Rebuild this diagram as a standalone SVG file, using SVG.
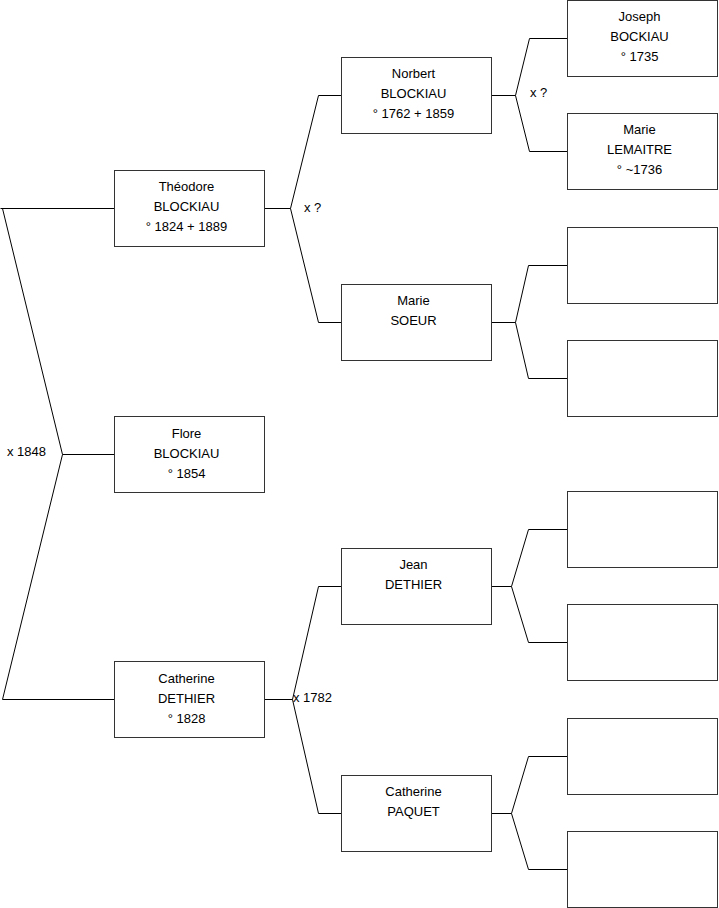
<svg xmlns="http://www.w3.org/2000/svg" width="719" height="908" viewBox="0 0 719 908">
<style>
.box{fill:#fff;stroke:#333;stroke-width:1}
.c{fill:none;stroke:#000;stroke-width:1}
text{font-family:"Liberation Sans",Arial,sans-serif;font-size:13px;fill:#000}
.m{text-anchor:middle}
</style>
<rect width="719" height="908" fill="#fff"/>
<g id="connectors">
<polyline class="c" points="0.5,208.5 114,208.5"/>
<polyline class="c" points="2.5,208.5 62.5,454.5 2.5,699.5 114,699.5"/>
<polyline class="c" points="62.5,454.5 114,454.5"/>
<polyline class="c" points="265,208.5 290.5,208.5"/>
<polyline class="c" points="341,95.5 318.5,95.5 290.5,208.5 318.5,322.5 341,322.5"/>
<polyline class="c" points="265,699.5 292.5,699.5"/>
<polyline class="c" points="341,586.5 318.5,586.5 292.5,699.5 318.5,813.5 341,813.5"/>
<polyline class="c" points="492,95.5 515.5,95.5"/>
<polyline class="c" points="567,38.5 529.5,38.5 515.5,95.5 529.5,151.5 567,151.5"/>
<polyline class="c" points="492,322.5 515.5,322.5"/>
<polyline class="c" points="567,265.5 528.5,265.5 515.5,322.5 528.5,378.5 567,378.5"/>
<polyline class="c" points="492,586.5 511.5,586.5"/>
<polyline class="c" points="567,529.5 528.5,529.5 511.5,586.5 528.5,642.5 567,642.5"/>
<polyline class="c" points="492,813.5 511.5,813.5"/>
<polyline class="c" points="567,756.5 528.5,756.5 511.5,813.5 528.5,869.5 567,869.5"/>
<text x="304" y="212">x ?</text>
<text x="530" y="97">x ?</text>
<text x="7" y="456">x 1848</text>
<text x="293" y="702">x 1782</text>
</g>
<g id="theodore"><rect class="box" x="114.5" y="170.5" width="150" height="76"/>
<text class="m" x="186.5" y="191">Théodore</text><text class="m" x="186.5" y="211">BLOCKIAU</text><text class="m" x="186.5" y="231">° 1824 + 1889</text></g>
<g id="flore"><rect class="box" x="114.5" y="416.5" width="150" height="76"/>
<text class="m" x="186.5" y="438">Flore</text><text class="m" x="186.5" y="458">BLOCKIAU</text><text class="m" x="186.5" y="478">° 1854</text></g>
<g id="catherine-dethier"><rect class="box" x="114.5" y="661.5" width="150" height="76"/>
<text class="m" x="186.5" y="683">Catherine</text><text class="m" x="186.5" y="703">DETHIER</text><text class="m" x="186.5" y="723">° 1828</text></g>
<g id="norbert"><rect class="box" x="341.5" y="57.5" width="150" height="76"/>
<text class="m" x="413.5" y="78">Norbert</text><text class="m" x="413.5" y="98">BLOCKIAU</text><text class="m" x="413.5" y="118">° 1762 + 1859</text></g>
<g id="marie-soeur"><rect class="box" x="341.5" y="284.5" width="150" height="76"/>
<text class="m" x="413.5" y="305">Marie</text><text class="m" x="413.5" y="325">SOEUR</text></g>
<g id="jean"><rect class="box" x="341.5" y="548.5" width="150" height="76"/>
<text class="m" x="413.5" y="569">Jean</text><text class="m" x="413.5" y="589">DETHIER</text></g>
<g id="catherine-paquet"><rect class="box" x="341.5" y="775.5" width="150" height="76"/>
<text class="m" x="413.5" y="796">Catherine</text><text class="m" x="413.5" y="816">PAQUET</text></g>
<g id="joseph"><rect class="box" x="567.5" y="0.5" width="150" height="76"/>
<text class="m" x="639.5" y="21">Joseph</text><text class="m" x="639.5" y="41">BOCKIAU</text><text class="m" x="639.5" y="61">° 1735</text></g>
<g id="marie-lemaitre"><rect class="box" x="567.5" y="113.5" width="150" height="76"/>
<text class="m" x="639.5" y="134">Marie</text><text class="m" x="639.5" y="154">LEMAITRE</text><text class="m" x="639.5" y="174">° ~1736</text></g>
<g id="empty1"><rect class="box" x="567.5" y="227.5" width="150" height="76"/></g>
<g id="empty2"><rect class="box" x="567.5" y="340.5" width="150" height="76"/></g>
<g id="empty3"><rect class="box" x="567.5" y="491.5" width="150" height="76"/></g>
<g id="empty4"><rect class="box" x="567.5" y="604.5" width="150" height="76"/></g>
<g id="empty5"><rect class="box" x="567.5" y="718.5" width="150" height="76"/></g>
<g id="empty6"><rect class="box" x="567.5" y="831.5" width="150" height="76"/></g>
</svg>
